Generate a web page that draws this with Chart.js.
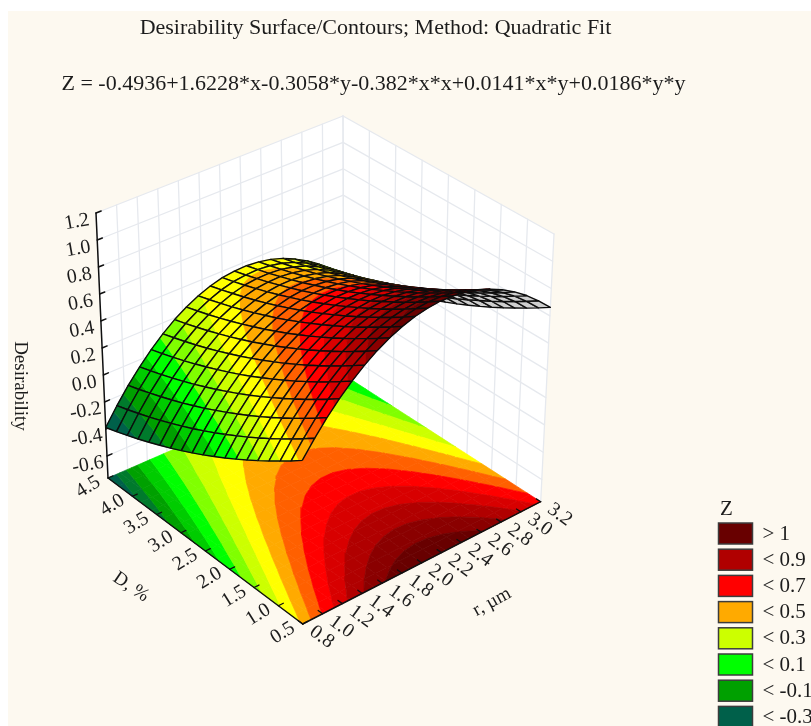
<!DOCTYPE html>
<html>
<head>
<meta charset="utf-8">
<title>Desirability Surface</title>
<script src="https://cdn.jsdelivr.net/npm/chart.js@4"></script>
<style>
    html, body { margin: 0; padding: 0; background: #ffffff; }
    canvas { display: block; }
</style>
</head>
<body>
<canvas id="grafico" width="811" height="726"></canvas>
<script>
const rValues = [0.8, 0.92, 1.04, 1.16, 1.28, 1.4, 1.52, 1.64, 1.76, 1.88, 2.0, 2.12, 2.24, 2.36, 2.48, 2.6, 2.72, 2.84, 2.96, 3.08, 3.2];
const dValues = [0.5, 0.722, 0.944, 1.167, 1.389, 1.611, 1.833, 2.056, 2.278, 2.5, 2.722, 2.944, 3.167, 3.389, 3.611, 3.833, 4.056, 4.278, 4.5];
const zRows = [
    [0.418, 0.534, 0.640, 0.735, 0.818, 0.891, 0.953, 1.004, 1.043, 1.072, 1.090, 1.097, 1.092, 1.077, 1.051, 1.013, 0.965, 0.906, 0.836, 0.754, 0.662],
    [0.357, 0.474, 0.580, 0.675, 0.760, 0.833, 0.895, 0.946, 0.986, 1.015, 1.033, 1.040, 1.036, 1.021, 0.996, 0.959, 0.911, 0.852, 0.782, 0.701, 0.609],
    [0.299, 0.416, 0.523, 0.618, 0.703, 0.776, 0.839, 0.890, 0.931, 0.960, 0.978, 0.986, 0.982, 0.968, 0.942, 0.906, 0.858, 0.800, 0.730, 0.650, 0.558],
    [0.242, 0.360, 0.467, 0.562, 0.647, 0.721, 0.784, 0.836, 0.877, 0.907, 0.925, 0.933, 0.930, 0.916, 0.891, 0.855, 0.807, 0.749, 0.680, 0.600, 0.509],
    [0.187, 0.305, 0.413, 0.509, 0.594, 0.668, 0.732, 0.784, 0.825, 0.855, 0.874, 0.883, 0.880, 0.866, 0.841, 0.806, 0.759, 0.701, 0.632, 0.552, 0.462],
    [0.134, 0.253, 0.360, 0.457, 0.542, 0.617, 0.681, 0.733, 0.775, 0.806, 0.825, 0.834, 0.831, 0.818, 0.794, 0.758, 0.712, 0.654, 0.586, 0.507, 0.416],
    [0.083, 0.202, 0.310, 0.407, 0.493, 0.568, 0.632, 0.685, 0.727, 0.758, 0.778, 0.786, 0.785, 0.772, 0.748, 0.713, 0.666, 0.609, 0.542, 0.463, 0.372],
    [0.033, 0.153, 0.261, 0.358, 0.445, 0.520, 0.585, 0.638, 0.680, 0.712, 0.732, 0.741, 0.740, 0.727, 0.704, 0.669, 0.623, 0.566, 0.499, 0.420, 0.330],
    [-0.014, 0.106, 0.215, 0.312, 0.399, 0.475, 0.540, 0.593, 0.636, 0.668, 0.688, 0.698, 0.697, 0.684, 0.661, 0.627, 0.581, 0.525, 0.458, 0.380, 0.290],
    [-0.060, 0.060, 0.170, 0.267, 0.354, 0.431, 0.496, 0.550, 0.593, 0.625, 0.646, 0.656, 0.655, 0.644, 0.621, 0.587, 0.542, 0.486, 0.419, 0.341, 0.252],
    [-0.104, 0.017, 0.127, 0.225, 0.312, 0.389, 0.455, 0.509, 0.552, 0.585, 0.606, 0.616, 0.616, 0.605, 0.582, 0.549, 0.504, 0.449, 0.382, 0.305, 0.216],
    [-0.146, -0.025, 0.085, 0.184, 0.272, 0.349, 0.415, 0.469, 0.513, 0.546, 0.568, 0.578, 0.578, 0.567, 0.546, 0.513, 0.468, 0.413, 0.347, 0.270, 0.181],
    [-0.186, -0.064, 0.046, 0.145, 0.233, 0.311, 0.377, 0.432, 0.476, 0.509, 0.532, 0.542, 0.543, 0.532, 0.511, 0.478, 0.434, 0.379, 0.314, 0.237, 0.149],
    [-0.224, -0.102, 0.008, 0.107, 0.196, 0.274, 0.341, 0.396, 0.441, 0.474, 0.497, 0.508, 0.509, 0.499, 0.478, 0.446, 0.401, 0.347, 0.282, 0.206, 0.118],
    [-0.261, -0.139, -0.027, 0.072, 0.161, 0.239, 0.307, 0.362, 0.407, 0.441, 0.465, 0.476, 0.477, 0.467, 0.446, 0.415, 0.371, 0.317, 0.252, 0.177, 0.089],
    [-0.296, -0.173, -0.061, 0.038, 0.128, 0.207, 0.274, 0.330, 0.375, 0.410, 0.434, 0.445, 0.447, 0.437, 0.417, 0.386, 0.342, 0.289, 0.225, 0.149, 0.062],
    [-0.329, -0.205, -0.093, 0.006, 0.096, 0.176, 0.244, 0.299, 0.345, 0.381, 0.405, 0.416, 0.418, 0.409, 0.389, 0.359, 0.315, 0.262, 0.198, 0.123, 0.036],
    [-0.360, -0.236, -0.124, -0.024, 0.067, 0.147, 0.215, 0.271, 0.317, 0.353, 0.377, 0.389, 0.392, 0.383, 0.364, 0.333, 0.290, 0.238, 0.174, 0.100, 0.013],
    [-0.389, -0.265, -0.152, -0.052, 0.039, 0.119, 0.188, 0.244, 0.291, 0.327, 0.352, 0.364, 0.367, 0.359, 0.340, 0.310, 0.267, 0.215, 0.152, 0.078, -0.009]
];

const rTicks = [0.8, 1.0, 1.2, 1.4, 1.6, 1.8, 2.0, 2.2, 2.4, 2.6, 2.8, 3.0, 3.2];
const dTicks = [0.5, 1.0, 1.5, 2.0, 2.5, 3.0, 3.5, 4.0, 4.5];
const zTicks = [-0.6, -0.4, -0.2, 0.0, 0.2, 0.4, 0.6, 0.8, 1.0, 1.2];

const bandLimits = [-0.3, -0.2, -0.1, 0, 0.1, 0.2, 0.3, 0.4, 0.5, 0.6, 0.7, 0.8, 0.9, 1.0];
const bandColors = ['#00604a', '#007a2c', '#00a000', '#00cc00', '#00ff00', '#80ff00', '#ccff00', '#ffff00', '#ffaa00', '#ff6000', '#ff0000', '#d80000', '#b00000', '#8a0000', '#680000'];

const legendLabels = ['> 1', '< 0.9', '< 0.7', '< 0.5', '< 0.3', '< 0.1', '< -0.1', '< -0.3'];
const legendColors = ['#680000', '#b00000', '#ff0000', '#ffaa00', '#ccff00', '#00ff00', '#00a000', '#00604a'];

const tituloTexto = 'Desirability Surface/Contours; Method: Quadratic Fit';
const formulaTexto = 'Z = -0.4936+1.6228*x-0.3058*y-0.382*x*x+0.0141*x*y+0.0186*y*y';

const zMin = -0.763;
const zMax = 1.2;
const serif = '"Liberation Serif", "Times New Roman", serif';
const textColor = '#1c1c1c';

// box corners on the page: front, right (r max), left (D max), back
const floorBox = [[302.7, 624], [540.7, 501.7], [108, 478], [344, 375]];
const topBox = [[302, 352], [554, 234], [96, 213], [343, 116]];

function bilinear(box, u, v) {
    const a = (1 - u) * (1 - v), b = u * (1 - v), c = (1 - u) * v, d = u * v;
    return [
        a * box[0][0] + b * box[1][0] + c * box[2][0] + d * box[3][0],
        a * box[0][1] + b * box[1][1] + c * box[2][1] + d * box[3][1]
    ];
}

function project(r, d, z) {
    const u = (r - rValues[0]) / (rValues[rValues.length - 1] - rValues[0]);
    const v = (d - dValues[0]) / (dValues[dValues.length - 1] - dValues[0]);
    const w = (z - zMin) / (zMax - zMin);
    const p0 = bilinear(floorBox, u, v);
    const p1 = bilinear(topBox, u, v);
    return { x: p0[0] + (p1[0] - p0[0]) * w, y: p0[1] + (p1[1] - p0[1]) * w };
}

// keep the part of a polygon on one side of a z level
function clipLevel(poly, level, keepAbove) {
    const out = [];
    for (let i = 0; i < poly.length; i++) {
        const a = poly[i];
        const b = poly[(i + 1) % poly.length];
        const aIn = keepAbove ? a.z >= level : a.z <= level;
        const bIn = keepAbove ? b.z >= level : b.z <= level;
        if (aIn) out.push(a);
        if (aIn !== bIn) {
            const t = (level - a.z) / (b.z - a.z);
            out.push({ x: a.x + (b.x - a.x) * t, y: a.y + (b.y - a.y) * t, z: level });
        }
    }
    return out;
}

const drawList = [];

function addShape(points, fillColor, lineColor, lineWidth) {
    const pts = points.map(p => ({ x: p.x, y: p.y }));
    pts.push(pts[0]);
    drawList.push({
        data: pts,
        showLine: true,
        fill: fillColor ? 'shape' : false,
        backgroundColor: fillColor || 'transparent',
        borderColor: lineColor,
        borderWidth: lineWidth,
        borderJoinStyle: 'round',
        pointRadius: 0,
        tension: 0
    });
}

function addLine(a, b, color, width) {
    drawList.push({
        data: [a, b],
        showLine: true,
        fill: false,
        borderColor: color,
        borderWidth: width,
        borderCapStyle: 'round',
        pointRadius: 0,
        tension: 0
    });
}

function addBands(poly) {
    bandColors.forEach(function (color, k) {
        let part = poly;
        if (k > 0) part = clipLevel(part, bandLimits[k - 1], true);
        if (part.length && k < bandLimits.length) part = clipLevel(part, bandLimits[k], false);
        if (part.length > 2) addShape(part, color, color, 0.7);
    });
}

// walls
const rLast = rValues[rValues.length - 1];
const rFirst = rValues[0];
const dLast = dValues[dValues.length - 1];
const dFirst = dValues[0];
const gridColor = '#e6e9ee';

addShape([project(rFirst, dLast, zMin), project(rLast, dLast, zMin), project(rLast, dLast, zMax), project(rFirst, dLast, zMax)], '#ffffff', '#ffffff', 0);
addShape([project(rLast, dFirst, zMin), project(rLast, dLast, zMin), project(rLast, dLast, zMax), project(rLast, dFirst, zMax)], '#ffffff', '#ffffff', 0);

zTicks.forEach(function (z) {
    addLine(project(rFirst, dLast, z), project(rLast, dLast, z), gridColor, 1.3);
    addLine(project(rLast, dLast, z), project(rLast, dFirst, z), gridColor, 1.3);
});
rTicks.forEach(function (r) {
    addLine(project(r, dLast, zMin), project(r, dLast, zMax), gridColor, 1.3);
});
dTicks.forEach(function (d) {
    addLine(project(rLast, d, zMin), project(rLast, d, zMax), gridColor, 1.3);
});

// contours on the floor
for (let j = 0; j < dValues.length - 1; j++) {
    for (let i = 0; i < rValues.length - 1; i++) {
        const cell = [[i, j], [i + 1, j], [i + 1, j + 1], [i, j + 1]].map(function (c) {
            const p = project(rValues[c[0]], dValues[c[1]], zMin);
            return { x: p.x, y: p.y, z: zRows[c[1]][c[0]] };
        });
        addBands(cell);
    }
}

// box edges and ticks
const axisColor = '#101010';
addLine(project(rFirst, dLast, zMin), project(rFirst, dFirst, zMin), axisColor, 1.5);
addLine(project(rFirst, dFirst, zMin), project(rLast, dFirst, zMin), axisColor, 1.5);
addLine(project(rFirst, dLast, zMin), project(rFirst, dLast, zMax), axisColor, 1.5);
zTicks.forEach(function (z) {
    addLine(project(rFirst, dLast, z), project(rFirst + 0.05, dLast, z), axisColor, 1.5);
});
dTicks.forEach(function (d) {
    addLine(project(rFirst, d, zMin), project(rFirst + 0.05, d, zMin), axisColor, 1.3);
});
rTicks.forEach(function (r) {
    addLine(project(r, dFirst, zMin), project(r, dFirst + 0.09, zMin), axisColor, 1.3);
});

// surface, far cells first
for (let i = rValues.length - 2; i >= 0; i--) {
    for (let j = dValues.length - 2; j >= 0; j--) {
        const cell = [[i, j], [i + 1, j], [i + 1, j + 1], [i, j + 1]].map(function (c) {
            const z = zRows[c[1]][c[0]];
            const p = project(rValues[c[0]], dValues[c[1]], z);
            return { x: p.x, y: p.y, z: z };
        });
        let area = 0;
        cell.forEach(function (p, n) {
            const q = cell[(n + 1) % 4];
            area += p.x * q.y - q.x * p.y;
        });
        if (area > 0) {
            addShape(cell, '#cfcfcf', '#cfcfcf', 0.5);
        } else {
            addBands(cell);
        }
        addShape(cell, null, '#0c0c0c', 1.4);
    }
}

// first dataset is painted last by Chart.js, so the order is turned around
drawList.forEach(function (ds, n) {
    ds.order = drawList.length - n;
});

function label(ctx, text, x, y, angle, size) {
    ctx.save();
    ctx.translate(x, y);
    ctx.rotate(angle * Math.PI / 180);
    ctx.font = size + 'px ' + serif;
    ctx.textAlign = 'center';
    ctx.textBaseline = 'middle';
    ctx.fillStyle = textColor;
    ctx.fillText(text, 0, 0);
    ctx.restore();
}

const textos = {
    id: 'textos',
    beforeDraw: function (chart) {
        const ctx = chart.ctx;
        ctx.fillStyle = '#ffffff';
        ctx.fillRect(0, 0, 811, 726);
        ctx.fillStyle = '#fdf9f0';
        ctx.fillRect(8, 11, 803, 715);
    },
    afterDraw: function (chart) {
        const ctx = chart.ctx;
        const sx = chart.scales.x;
        const sy = chart.scales.y;

        label(ctx, tituloTexto, 375.5, 28, 0, 22);
        label(ctx, formulaTexto, 373.5, 84, 0, 22);

        zTicks.forEach(function (z) {
            const p = project(rFirst, dLast, z);
            label(ctx, z.toFixed(1), sx.getPixelForValue(p.x) - 19, sy.getPixelForValue(p.y) + 9, -10, 20);
        });
        dTicks.forEach(function (d) {
            const p = project(rFirst, d, zMin);
            label(ctx, d.toFixed(1), sx.getPixelForValue(p.x) - 20, sy.getPixelForValue(p.y) + 9, -32, 20);
        });
        rTicks.forEach(function (r) {
            const p = project(r, dFirst, zMin);
            label(ctx, r.toFixed(1), sx.getPixelForValue(p.x) + 19, sy.getPixelForValue(p.y) + 13, 36, 20);
        });

        label(ctx, 'Desirability', 20, 386, 90, 19);
        label(ctx, 'D, %', 131, 587, 34, 19);
        label(ctx, 'r, \u00b5m', 492, 602, -29, 19);

        ctx.font = '21px ' + serif;
        ctx.textAlign = 'left';
        ctx.textBaseline = 'middle';
        ctx.fillStyle = textColor;
        ctx.fillText('Z', 720, 509);
        legendLabels.forEach(function (txt, n) {
            const top = 523 + n * 26.2;
            ctx.fillStyle = legendColors[n];
            ctx.fillRect(718.5, top, 34, 21);
            ctx.strokeStyle = '#3c3c3c';
            ctx.lineWidth = 1.5;
            ctx.strokeRect(718.5, top, 34, 21);
            ctx.fillStyle = textColor;
            ctx.fillText(txt, 762.5, top + 11);
        });
    }
};

new Chart(document.getElementById('grafico'), {
    type: 'scatter',
    data: { datasets: drawList },
    options: {
        responsive: false,
        animation: false,
        events: [],
        layout: { padding: 0 },
        plugins: {
            legend: { display: false },
            title: { display: false },
            tooltip: { enabled: false }
        },
        scales: {
            x: { type: 'linear', display: false, min: 0, max: 811 },
            y: { type: 'linear', display: false, min: 0, max: 726, reverse: true }
        }
    },
    plugins: [textos]
});
</script>
</body>
</html>
